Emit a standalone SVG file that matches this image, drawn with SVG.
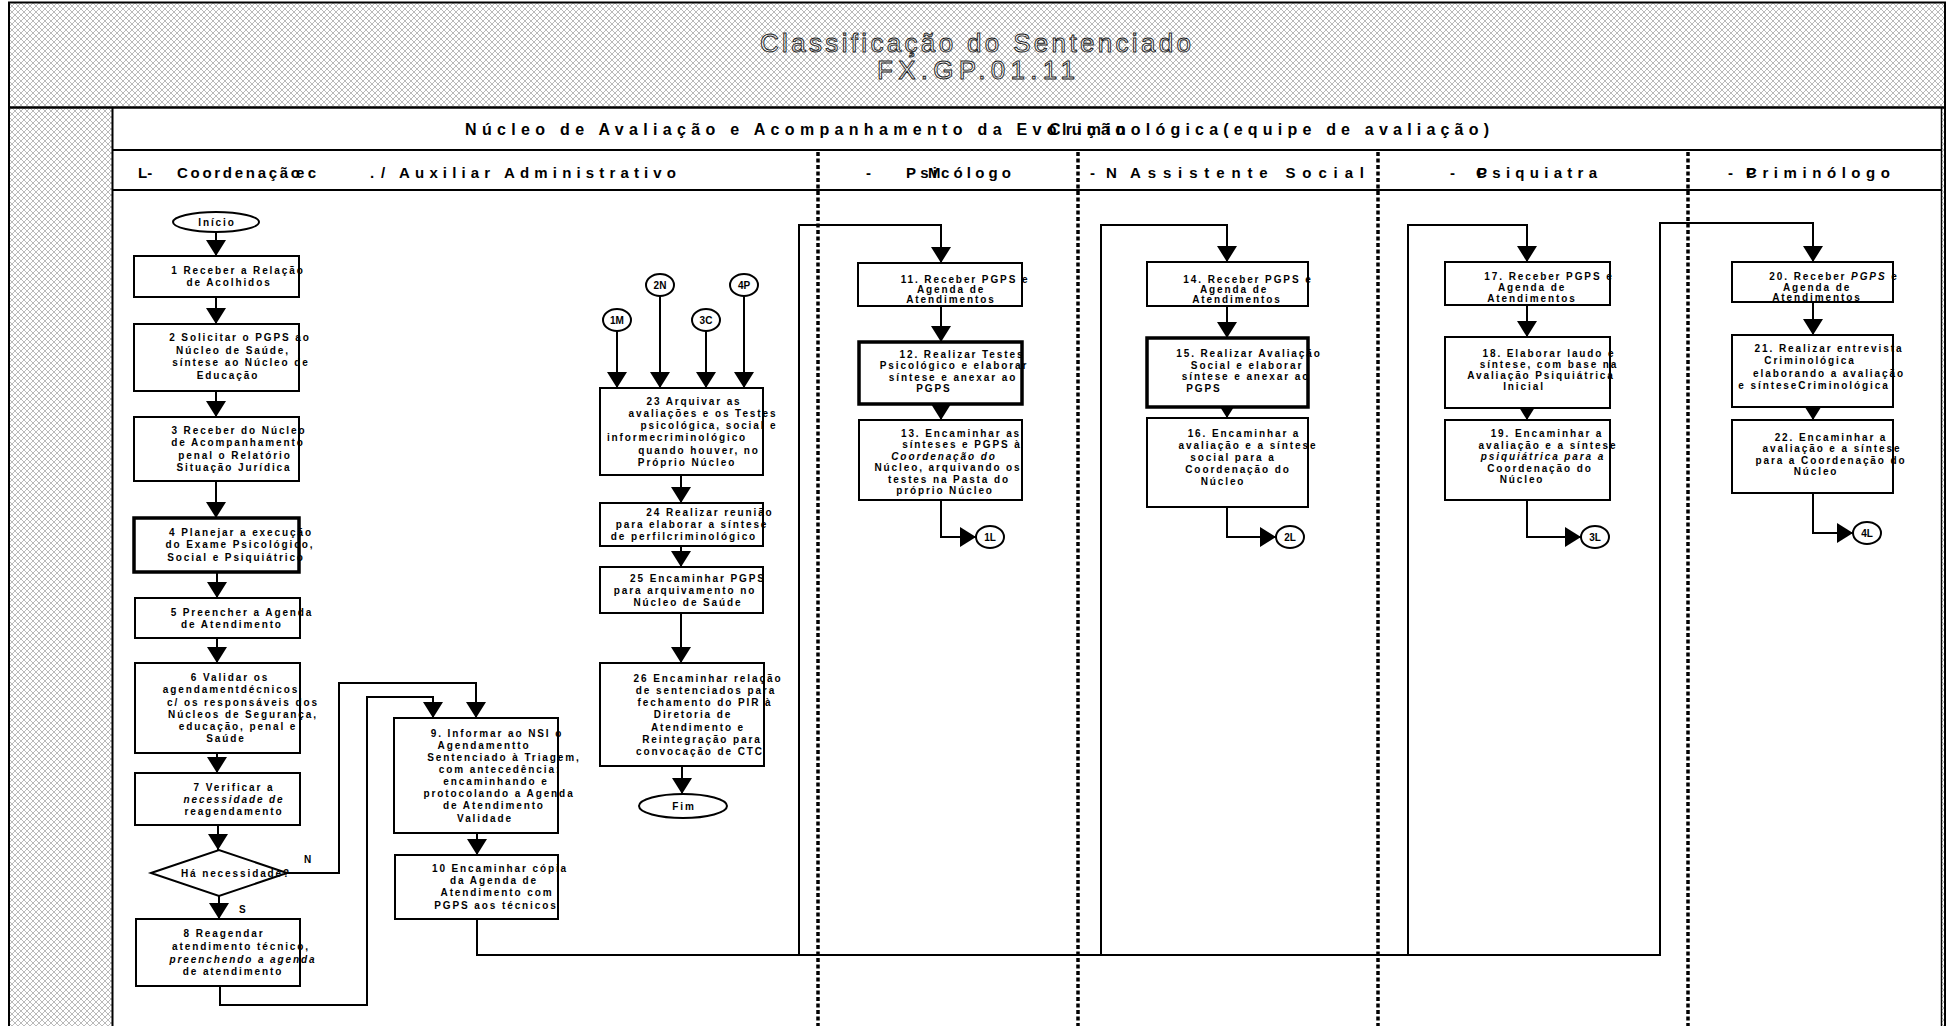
<svg xmlns="http://www.w3.org/2000/svg" width="1946" height="1026" viewBox="0 0 1946 1026">
<defs>
  <pattern id="hatch" width="6" height="6" patternUnits="userSpaceOnUse">
    <rect width="6" height="6" fill="#fff"/>
    <path d="M0,0 L6,6 M6,0 L0,6" stroke="#8c8c8c" stroke-width="0.6"/>
  </pattern>
  <marker id="ah" markerUnits="userSpaceOnUse" markerWidth="17" markerHeight="20" refX="16" refY="10" orient="auto">
    <path d="M0,0 L16,10 L0,20 z" fill="#000"/>
  </marker>
  <style>
    .bx{fill:#fff;stroke:#000;stroke-width:2}
    .bb{stroke-width:3.5}
    .t{font-family:"Liberation Sans",Arial,sans-serif;font-size:10px;font-weight:bold;letter-spacing:1.9px;text-anchor:middle;fill:#000}
    .it{font-style:italic}
    .ln{fill:none;stroke:#000;stroke-width:2}
    .ar{marker-end:url(#ah)}
    .lane{font-family:"Liberation Sans",Arial,sans-serif;font-size:15px;font-weight:bold;fill:#000}
    .hd{font-family:"Liberation Sans",Arial,sans-serif;font-size:16px;font-weight:bold;fill:#000}
    .ttl{font-family:"Liberation Sans",Arial,sans-serif;font-size:26px;fill:none;stroke:#1a1a1a;stroke-width:0.9}
    .frame{stroke:#000;fill:none}
    .dash{stroke:#000;stroke-width:3.5;stroke-dasharray:4 2.5;fill:none}
    .lbl{font-family:"Liberation Sans",Arial,sans-serif;font-size:10px;font-weight:bold;fill:#000}
  </style>
</defs>

<!-- background and frame -->
<rect x="0" y="0" width="1946" height="1026" fill="#fff"/>
<rect x="9" y="2.5" width="1936" height="1024" fill="url(#hatch)"/>
<rect x="112.5" y="107.5" width="1829" height="919" fill="#fff"/>
<g id="frame" class="frame">
  <path d="M9,1026 V2.5 H1945 V1026" stroke-width="2"/>
  <path d="M9,107.5 H1945" stroke-width="2.5"/>
  <path d="M112.5,107.5 V1026" stroke-width="2"/>
  <path d="M1941.5,107.5 V1026" stroke-width="1.5"/>
  <path d="M112.5,150 H1941.5" stroke-width="2"/>
  <path d="M112.5,190 H1941.5" stroke-width="2"/>
</g>

<!-- title -->
<g id="title">
  <text class="ttl" x="760" y="52" textLength="431" lengthAdjust="spacing">Classificação do Sentenciado</text>
  <text class="ttl" x="877" y="79" font-size="24" textLength="198" lengthAdjust="spacing">FX.GP.01.11</text>
</g>

<!-- header and lane titles -->
<g id="header">
  <text class="hd" x="465" y="135" textLength="660" lengthAdjust="spacing">Núcleo de Avaliação e Acompanhamento da Evolução</text>
  <text class="hd" x="1049" y="135" textLength="440" lengthAdjust="spacing">Criminológica(equipe de avaliação)</text>
</g>
<g id="lane-titles">
  <text class="lane" x="138" y="178">L-</text>
  <text class="lane" x="177" y="178" textLength="123" lengthAdjust="spacing">Coordenação</text>
  <text class="lane" x="296" y="178" textLength="20" lengthAdjust="spacing">ec</text>
  <text class="lane" x="370" y="178">.</text>
  <text class="lane" x="381" y="178" textLength="295" lengthAdjust="spacing">/ Auxiliar Administrativo</text>
  <text class="lane" x="866" y="178">-</text>
  <text class="lane" x="906" y="178" textLength="105" lengthAdjust="spacing">Psicólogo</text>
  <text class="lane" x="928" y="178">M</text>
  <text class="lane" x="1090" y="178">-</text>
  <text class="lane" x="1106" y="178">N</text>
  <text class="lane" x="1130" y="178" textLength="234" lengthAdjust="spacing">Assistente Social</text>
  <text class="lane" x="1450" y="178">-</text>
  <text class="lane" x="1477" y="178" textLength="120" lengthAdjust="spacing">Psiquiatra</text>
  <text class="lane" x="1476" y="178">C</text>
  <text class="lane" x="1728" y="178">-</text>
  <text class="lane" x="1746" y="178" textLength="144" lengthAdjust="spacing">Criminólogo</text>
  <text class="lane" x="1746" y="178">P</text>
</g>

<!-- lane separators -->
<g id="lanes">
  <path class="dash" d="M818,152 V1026"/>
  <path class="dash" d="M1078,152 V1026"/>
  <path class="dash" d="M1378,152 V1026"/>
  <path class="dash" d="M1688,152 V1026"/>
</g>

<!-- connectors -->
<g id="connectors">
  <path class="ln ar" d="M216,232 V256"/>
  <path class="ln ar" d="M216,297 V324"/>
  <path class="ln ar" d="M216,391 V417"/>
  <path class="ln ar" d="M216,481 V518"/>
  <path class="ln ar" d="M217,572 V598"/>
  <path class="ln ar" d="M217,638 V663"/>
  <path class="ln ar" d="M217,753 V773"/>
  <path class="ln ar" d="M218,825 V850"/>
  <path class="ln ar" d="M219,896 V919"/>
  <path class="ln ar" d="M287,873 H339 V683 H476 V718"/>
  <path class="ln ar" d="M220,986 V1005 H367 V697 H433 V718"/>
  <path class="ln ar" d="M477,833 V855"/>
  <path class="ln ar" d="M477,919 V955 H1660 V223 H1813 V262"/>
  <path class="ln ar" d="M799,955 V225 H941 V263"/>
  <path class="ln ar" d="M1101,955 V225 H1227 V262"/>
  <path class="ln ar" d="M1408,955 V225 H1527 V262"/>
  <path class="ln ar" d="M941,306 V342"/>
  <path class="ln ar" d="M941,404 V420"/>
  <path class="ln ar" d="M941,500 V537 H976"/>
  <path class="ln ar" d="M1227,306 V338"/>
  <path class="ln ar" d="M1227,407 V418"/>
  <path class="ln ar" d="M1227,507 V537 H1276"/>
  <path class="ln ar" d="M1527,305 V337"/>
  <path class="ln ar" d="M1527,408 V420"/>
  <path class="ln ar" d="M1527,500 V537 H1581"/>
  <path class="ln ar" d="M1813,302 V335"/>
  <path class="ln ar" d="M1813,407 V420"/>
  <path class="ln ar" d="M1813,493 V533 H1853"/>
  <path class="ln ar" d="M617,331 V388"/>
  <path class="ln ar" d="M660,296 V388"/>
  <path class="ln ar" d="M706,331 V388"/>
  <path class="ln ar" d="M744,296 V388"/>
  <path class="ln ar" d="M681,475 V503"/>
  <path class="ln ar" d="M681,546 V567"/>
  <path class="ln ar" d="M681,613 V663"/>
  <path class="ln ar" d="M682,766 V794"/>
</g>
<g id="edge-labels">
  <text class="lbl" x="304" y="863">N</text>
  <text class="lbl" x="239" y="913">S</text>
</g>

<!-- coordination lane -->
<g id="inicio">
  <ellipse cx="216" cy="222" rx="43" ry="10" class="bx"/>
  <text class="t" x="217" y="226">Início</text>
</g>
<g id="n1">
  <rect class="bx" x="134" y="256" width="165" height="41"/>
  <text class="t"><tspan x="238" y="274">1 Receber a Relação</tspan><tspan x="229" y="286">de Acolhidos</tspan></text>
</g>
<g id="n2">
  <rect class="bx" x="134" y="324" width="165" height="67"/>
  <text class="t"><tspan x="240" y="341">2 Solicitar o PGPS ao</tspan><tspan x="233" y="353.5">Núcleo de Saúde,</tspan><tspan x="241" y="366">síntese ao Núcleo de</tspan><tspan x="228" y="378.5">Educação</tspan></text>
</g>
<g id="n3">
  <rect class="bx" x="134" y="417" width="165" height="64"/>
  <text class="t"><tspan x="239" y="433.5">3 Receber do Núcleo</tspan><tspan x="238" y="446">de Acompanhamento</tspan><tspan x="235" y="458.5">penal o Relatório</tspan><tspan x="234" y="471">Situação Jurídica</tspan></text>
</g>
<g id="n4">
  <rect class="bx bb" x="134" y="518" width="165" height="54"/>
  <text class="t"><tspan x="241" y="535.5">4 Planejar a execução</tspan><tspan x="240" y="548">do Exame Psicológico,</tspan><tspan x="236" y="560.5">Social e Psiquiátrico</tspan></text>
</g>
<g id="n5">
  <rect class="bx" x="135" y="598" width="165" height="40"/>
  <text class="t"><tspan x="242" y="616">5 Preencher a Agenda</tspan><tspan x="232" y="628">de Atendimento</tspan></text>
</g>
<g id="n6">
  <rect class="bx" x="135" y="663" width="165" height="90"/>
  <text class="t"><tspan x="230" y="681">6 Validar os</tspan><tspan x="231" y="693">agendamentdécnicos</tspan><tspan x="243" y="705.5">c/ os responsáveis dos</tspan><tspan x="243" y="717.5">Núcleos de Segurança,</tspan><tspan x="238" y="730">educação, penal e</tspan><tspan x="226" y="742">Saúde</tspan></text>
</g>
<g id="n7">
  <rect class="bx" x="135" y="773" width="165" height="52"/>
  <text class="t"><tspan x="234" y="790.5">7 Verificar a</tspan><tspan x="234" y="802.5" class="it">necessidade de</tspan><tspan x="234" y="815">reagendamento</tspan></text>
</g>
<g id="d1">
  <path class="bx" d="M151,873 L219,850 L287,873 L219,896 Z"/>
  <text class="t" x="236" y="876.5">Há necessidade?</text>
</g>
<g id="n8">
  <rect class="bx" x="136" y="919" width="164" height="67"/>
  <text class="t"><tspan x="224" y="936.5">8 Reagendar</tspan><tspan x="241" y="950">atendimento técnico,</tspan><tspan x="243" y="962.5" class="it">preenchendo a agenda</tspan><tspan x="233" y="974.5">de atendimento</tspan></text>
</g>
<g id="n9">
  <rect class="bx" x="394" y="718" width="164" height="115"/>
  <text class="t"><tspan x="497" y="736.5">9. Informar ao NSI o</tspan><tspan x="484" y="748.5">Agendamentto</tspan><tspan x="504" y="760.5">Sentenciado à Triagem,</tspan><tspan x="500" y="773">com antecedência;</tspan><tspan x="496" y="785">encaminhando e</tspan><tspan x="499" y="797">protocolando a Agenda</tspan><tspan x="494" y="809">de Atendimento</tspan><tspan x="485" y="821.5">Validade</tspan></text>
</g>
<g id="n10">
  <rect class="bx" x="395" y="855" width="163" height="64"/>
  <text class="t"><tspan x="500" y="871.5">10 Encaminhar cópia</tspan><tspan x="494" y="883.5">da Agenda de</tspan><tspan x="497" y="896">Atendimento com</tspan><tspan x="496" y="908.5">PGPS aos técnicos</tspan></text>
</g>

<!-- closing column -->
<g id="c1M"><ellipse class="bx" cx="617" cy="320" rx="14" ry="11"/><text class="lbl" x="617" y="324" text-anchor="middle">1M</text></g>
<g id="c2N"><ellipse class="bx" cx="660" cy="285" rx="14" ry="11"/><text class="lbl" x="660" y="289" text-anchor="middle">2N</text></g>
<g id="c3C"><ellipse class="bx" cx="706" cy="320" rx="14" ry="11"/><text class="lbl" x="706" y="324" text-anchor="middle">3C</text></g>
<g id="c4P"><ellipse class="bx" cx="744" cy="285" rx="14" ry="11"/><text class="lbl" x="744" y="289" text-anchor="middle">4P</text></g>
<g id="n23">
  <rect class="bx" x="600" y="388" width="163" height="87"/>
  <text class="t"><tspan x="694" y="404.5">23 Arquivar as</tspan><tspan x="703" y="416.5">avaliações e os Testes</tspan><tspan x="709" y="429">psicológica, social e</tspan><tspan x="677" y="441">informecriminológico</tspan><tspan x="699" y="453.5">quando houver, no</tspan><tspan x="687" y="465.5">Próprio Núcleo</tspan></text>
</g>
<g id="n24">
  <rect class="bx" x="600" y="503" width="163" height="43"/>
  <text class="t"><tspan x="710" y="516">24 Realizar reunião</tspan><tspan x="692" y="528">para elaborar a síntese</tspan><tspan x="684" y="540">de perfilcriminológico</tspan></text>
</g>
<g id="n25">
  <rect class="bx" x="600" y="567" width="163" height="46"/>
  <text class="t"><tspan x="698" y="582">25 Encaminhar PGPS</tspan><tspan x="685" y="594">para arquivamento no</tspan><tspan x="688" y="606">Núcleo de Saúde</tspan></text>
</g>
<g id="n26">
  <rect class="bx" x="600" y="663" width="164" height="103"/>
  <text class="t"><tspan x="708" y="681.5">26 Encaminhar relação</tspan><tspan x="706" y="693.5">de sentenciados para</tspan><tspan x="705" y="706">fechamento do PIR à</tspan><tspan x="693" y="718">Diretoria de</tspan><tspan x="698" y="730.5">Atendimento e</tspan><tspan x="702" y="742.5">Reintegração para</tspan><tspan x="700" y="754.5">convocação de CTC</tspan></text>
</g>
<g id="fim">
  <ellipse class="bx" cx="683" cy="806" rx="44" ry="12"/>
  <text class="t" x="684" y="810">Fim</text>
</g>

<!-- psychologist lane -->
<g id="n11">
  <rect class="bx" x="858" y="263" width="164" height="43"/>
  <text class="t"><tspan x="965" y="282.5">11. Receber PGPS e</tspan><tspan x="951" y="293">Agenda de</tspan><tspan x="951" y="303">Atendimentos</tspan></text>
</g>
<g id="n12">
  <rect class="bx bb" x="859" y="342" width="163" height="62"/>
  <text class="t"><tspan x="962" y="357.5">12. Realizar Testes</tspan><tspan x="954" y="369">Psicológico e elaborar</tspan><tspan x="953" y="380.5">síntese e anexar ao</tspan><tspan x="934" y="392">PGPS</tspan></text>
</g>
<g id="n13">
  <rect class="bx" x="859" y="420" width="163" height="80"/>
  <text class="t"><tspan x="961" y="436.5">13. Encaminhar as</tspan><tspan x="962" y="448">sínteses e PGPS à</tspan><tspan x="944" y="459.5" class="it">Coordenação do</tspan><tspan x="948" y="471">Núcleo, arquivando os</tspan><tspan x="949" y="482.5">testes na Pasta do</tspan><tspan x="945" y="494">próprio Núcleo</tspan></text>
</g>
<g id="c1L"><ellipse class="bx" cx="990" cy="537" rx="14" ry="11"/><text class="lbl" x="990" y="541" text-anchor="middle">1L</text></g>

<!-- social worker lane -->
<g id="n14">
  <rect class="bx" x="1147" y="262" width="161" height="44"/>
  <text class="t"><tspan x="1248" y="282.5">14. Receber PGPS e</tspan><tspan x="1234" y="293">Agenda de</tspan><tspan x="1237" y="303">Atendimentos</tspan></text>
</g>
<g id="n15">
  <rect class="bx bb" x="1147" y="338" width="161" height="69"/>
  <text class="t"><tspan x="1249" y="357">15. Realizar Avaliação</tspan><tspan x="1247" y="368.5">Social e elaborar</tspan><tspan x="1246" y="380">síntese e anexar ao</tspan><tspan x="1204" y="391.5">PGPS</tspan></text>
</g>
<g id="n16">
  <rect class="bx" x="1147" y="418" width="161" height="89"/>
  <text class="t"><tspan x="1244" y="437">16. Encaminhar a</tspan><tspan x="1248" y="449">avaliação e a síntese</tspan><tspan x="1233" y="461">social para a</tspan><tspan x="1238" y="473">Coordenação do</tspan><tspan x="1223" y="485">Núcleo</tspan></text>
</g>
<g id="c2L"><ellipse class="bx" cx="1290" cy="537" rx="14" ry="11"/><text class="lbl" x="1290" y="541" text-anchor="middle">2L</text></g>

<!-- psychiatrist lane -->
<g id="n17">
  <rect class="bx" x="1445" y="262" width="165" height="43"/>
  <text class="t"><tspan x="1549" y="280">17. Receber PGPS e</tspan><tspan x="1532" y="291">Agenda de</tspan><tspan x="1532" y="302">Atendimentos</tspan></text>
</g>
<g id="n18">
  <rect class="bx" x="1445" y="337" width="165" height="71"/>
  <text class="t"><tspan x="1549" y="357">18. Elaborar laudo e</tspan><tspan x="1549" y="368">síntese, com base na</tspan><tspan x="1541" y="379">Avaliação Psiquiátrica</tspan><tspan x="1524" y="390">Inicial</tspan></text>
</g>
<g id="n19">
  <rect class="bx" x="1445" y="420" width="165" height="80"/>
  <text class="t"><tspan x="1547" y="437">19. Encaminhar a</tspan><tspan x="1548" y="448.5">avaliação e a síntese</tspan><tspan x="1543" y="460" class="it">psiquiátrica para a</tspan><tspan x="1540" y="471.5">Coordenação do</tspan><tspan x="1522" y="483">Núcleo</tspan></text>
</g>
<g id="c3L"><ellipse class="bx" cx="1595" cy="537" rx="14" ry="11"/><text class="lbl" x="1595" y="541" text-anchor="middle">3L</text></g>

<!-- criminologist lane -->
<g id="n20">
  <rect class="bx" x="1732" y="262" width="161" height="40"/>
  <text class="t"><tspan x="1834" y="279.5">20. Receber <tspan class="it">PGPS</tspan> e</tspan><tspan x="1817" y="290.5">Agenda de</tspan><tspan x="1817" y="300.5">Atendimentos</tspan></text>
</g>
<g id="n21">
  <rect class="bx" x="1732" y="335" width="161" height="72"/>
  <text class="t"><tspan x="1829" y="352">21. Realizar entrevista</tspan><tspan x="1810" y="364">Criminológica</tspan><tspan x="1829" y="376.5">elaborando a avaliação</tspan><tspan x="1814" y="389">e sínteseCriminológica</tspan></text>
</g>
<g id="n22">
  <rect class="bx" x="1732" y="420" width="161" height="73"/>
  <text class="t"><tspan x="1831" y="440.5">22. Encaminhar a</tspan><tspan x="1832" y="452">avaliação e a síntese</tspan><tspan x="1831" y="463.5">para a Coordenação do</tspan><tspan x="1816" y="475">Núcleo</tspan></text>
</g>
<g id="c4L"><ellipse class="bx" cx="1867" cy="533" rx="14" ry="11"/><text class="lbl" x="1867" y="537" text-anchor="middle">4L</text></g>
</svg>
